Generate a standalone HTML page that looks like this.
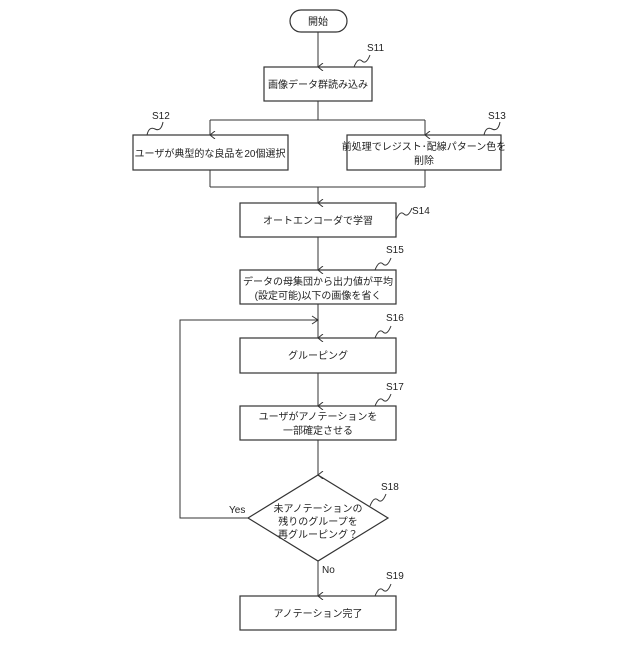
<!DOCTYPE html>
<html><head><meta charset="utf-8"><style>
body{margin:0;background:#fff}
svg text{font-family:"Liberation Sans","Noto Sans CJK JP",sans-serif;fill:#222}
</style></head><body>
<svg width="640" height="640" viewBox="0 0 640 640" xmlns="http://www.w3.org/2000/svg">
<defs><marker id="a" markerWidth="8" markerHeight="8" refX="4" refY="7" orient="auto" markerUnits="userSpaceOnUse"><path d="M0,2 L4,7 L8,2" fill="none" stroke="#333" stroke-width="1"/></marker></defs>
<g stroke="#333" stroke-width="1.2" fill="#fff">
<rect x="290" y="10" width="57" height="22" rx="11"/>
<rect x="264" y="67" width="108" height="34"/>
<rect x="133" y="135" width="155" height="35"/>
<rect x="347" y="135" width="154" height="35"/>
<rect x="240" y="203" width="156" height="34"/>
<rect x="240" y="270" width="156" height="34"/>
<rect x="240" y="338" width="156" height="35"/>
<rect x="240" y="406" width="156" height="34"/>
<polygon points="318,475 388,518 318,561 248,518"/>
<rect x="240" y="596" width="156" height="34"/>
</g>
<g stroke="#333" stroke-width="1" fill="none">
<line x1="318" y1="32" x2="318" y2="67" marker-end="url(#a)"/>
<line x1="318" y1="101" x2="318" y2="120"/>
<line x1="210" y1="120" x2="425" y2="120"/>
<line x1="210" y1="120" x2="210" y2="135" marker-end="url(#a)"/>
<line x1="425" y1="120" x2="425" y2="135" marker-end="url(#a)"/>
<line x1="210" y1="170" x2="210" y2="187"/>
<line x1="425" y1="170" x2="425" y2="187"/>
<line x1="210" y1="187" x2="425" y2="187"/>
<line x1="318" y1="187" x2="318" y2="203" marker-end="url(#a)"/>
<line x1="318" y1="237" x2="318" y2="270" marker-end="url(#a)"/>
<line x1="318" y1="304" x2="318" y2="338" marker-end="url(#a)"/>
<line x1="318" y1="373" x2="318" y2="406" marker-end="url(#a)"/>
<line x1="318" y1="440" x2="318" y2="475" marker-end="url(#a)"/>
<line x1="318" y1="561" x2="318" y2="596" marker-end="url(#a)"/>
<polyline points="248,518 180,518 180,320 318,320"/>
<path d="M312,316 L318,320 L312,324"/>
<path d="M354,67 q4,-10 8,-6 q4,4 8,-6"/>
<path d="M147,135 q2,-9 8,-6 q6,3 8,-7"/>
<path d="M484,135 q2,-9 8,-6 q6,3 8,-7"/>
<path d="M396,220 q4,-10 8,-6 q4,4 8,-6"/>
<path d="M375,270 q4,-10 8,-6 q4,4 8,-6"/>
<path d="M375,338 q4,-10 8,-6 q4,4 8,-6"/>
<path d="M375,406 q4,-10 8,-6 q4,4 8,-6"/>
<path d="M370,506 q4,-10 8,-6 q4,4 8,-6"/>
<path d="M375,596 q4,-10 8,-6 q4,4 8,-6"/>
</g>
<g font-size="10" text-anchor="middle">
<text x="318" y="25">開始</text>
<text x="318" y="88">画像データ群読み込み</text>
<text x="210" y="157">ユーザが典型的な良品を20個選択</text>
<text x="424" y="150">前処理でレジスト･配線パターン色を</text>
<text x="424" y="164">削除</text>
<text x="318" y="224">オートエンコーダで学習</text>
<text x="318" y="285">データの母集団から出力値が平均</text>
<text x="318" y="299">(設定可能)以下の画像を省く</text>
<text x="318" y="359">グルーピング</text>
<text x="318" y="420">ユーザがアノテーションを</text>
<text x="318" y="434">一部確定させる</text>
<text x="318" y="512">未アノテーションの</text>
<text x="318" y="525">残りのグループを</text>
<text x="318" y="538">再グルーピング？</text>
<text x="318" y="617">アノテーション完了</text>
</g>
<g font-size="10">
<text x="367" y="51">S11</text>
<text x="152" y="119">S12</text>
<text x="488" y="119">S13</text>
<text x="412" y="214">S14</text>
<text x="386" y="253">S15</text>
<text x="386" y="321">S16</text>
<text x="386" y="390">S17</text>
<text x="381" y="490">S18</text>
<text x="386" y="579">S19</text>
<text x="229" y="513">Yes</text>
<text x="322" y="573">No</text>
</g>
</svg>
</body></html>
